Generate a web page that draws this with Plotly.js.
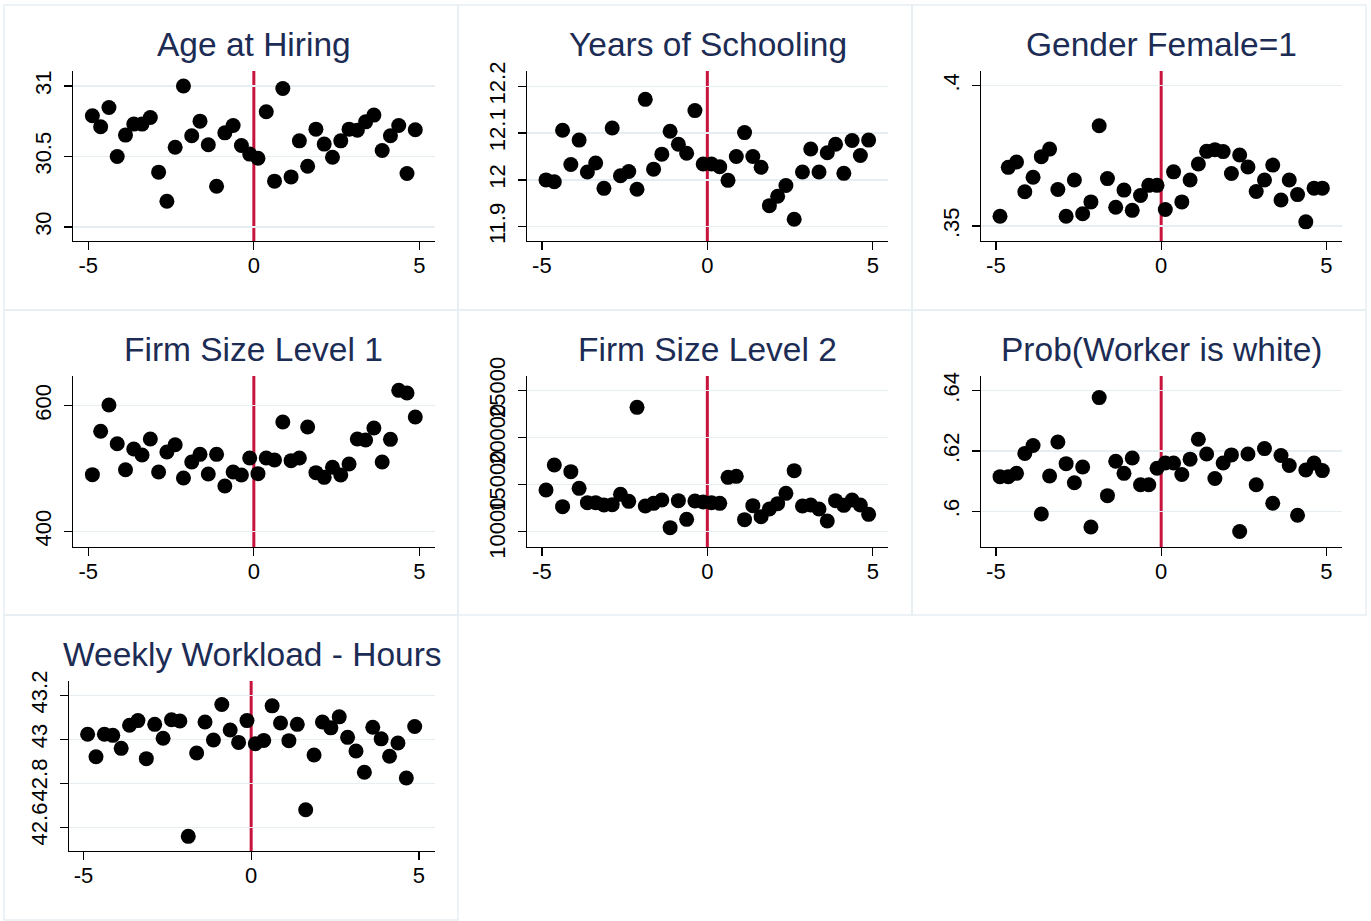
<!DOCTYPE html>
<html>
<head>
<meta charset="utf-8">
<script src="https://cdn.plot.ly/plotly-3.0.1.min.js"></script>
<style>
  html, body { margin: 0; padding: 0; background: #ffffff; }
  #chart { width: 1371px; height: 921px; }
</style>
</head>
<body>
<div id="chart"></div>
<script>
// Running variable: bin centres (distance to cutoff)
const bins = [-4.875, -4.625, -4.375, -4.125, -3.875, -3.625, -3.375, -3.125, -2.875, -2.625,
              -2.375, -2.125, -1.875, -1.625, -1.375, -1.125, -0.875, -0.625, -0.375, -0.125,
               0.125,  0.375,  0.625,  0.875,  1.125,  1.375,  1.625,  1.875,  2.125,  2.375,
               2.625,  2.875,  3.125,  3.375,  3.625,  3.875,  4.125,  4.375,  4.625,  4.875];

// Bin means of each covariate
const ageAtHiring = [30.789, 30.711, 30.848, 30.500, 30.652, 30.730, 30.730, 30.777, 30.389, 30.182,
                     30.566, 31.000, 30.647, 30.751, 30.583, 30.289, 30.668, 30.720, 30.578, 30.517,
                     30.488, 30.818, 30.325, 30.983, 30.355, 30.611, 30.431, 30.694, 30.588, 30.495,
                     30.611, 30.694, 30.687, 30.746, 30.794, 30.543, 30.647, 30.720, 30.379, 30.690];

const yearsSchooling = [12.000, 11.996, 12.106, 12.033, 12.085, 12.017, 12.036, 11.982, 12.111, 12.009,
                        12.018, 11.980, 12.172, 12.023, 12.055, 12.104, 12.076, 12.057, 12.148, 12.034,
                        12.034, 12.028, 11.999, 12.050, 12.101, 12.050, 12.027, 11.945, 11.965, 11.988,
                        11.916, 12.017, 12.066, 12.017, 12.058, 12.076, 12.014, 12.084, 12.052, 12.085];

const genderFemale = [0.3535, 0.3709, 0.3728, 0.3622, 0.3674, 0.3747, 0.3774, 0.3630, 0.3535, 0.3664,
                      0.3544, 0.3586, 0.3857, 0.3669, 0.3567, 0.3628, 0.3556, 0.3609, 0.3645, 0.3645,
                      0.3559, 0.3693, 0.3586, 0.3664, 0.3721, 0.3766, 0.3772, 0.3765, 0.3687, 0.3753,
                      0.3710, 0.3623, 0.3664, 0.3717, 0.3593, 0.3664, 0.3612, 0.3515, 0.3635, 0.3635];

const firmSize1 = [490.2, 559.2, 601.1, 539.5, 498.1, 531.0, 521.5, 547.0, 494.4, 526.3,
                   537.9, 484.9, 510.3, 522.5, 491.3, 522.5, 472.1, 494.4, 489.7, 516.7,
                   491.8, 516.7, 513.5, 574.0, 512.5, 516.7, 566.0, 493.4, 485.9, 501.9,
                   489.7, 507.2, 547.0, 545.4, 564.5, 510.3, 546.4, 624.4, 620.2, 582.0];

const firmSize2 = [14407, 17072, 12630, 16362, 14585, 13056, 13056, 12808, 12843, 13945,
                   13199, 23221, 12701, 12985, 13341, 10391, 13270, 11279, 13234, 13128,
                   13056, 12985, 15757, 15864, 11244, 12737, 11564, 12381, 12950, 14052,
                   16468, 12701, 12808, 12381, 11102, 13270, 12772, 13341, 12808, 11813];

const probWhite = [0.6115, 0.6115, 0.6126, 0.6192, 0.6218, 0.5991, 0.6117, 0.6230, 0.6158, 0.6095,
                   0.6147, 0.5948, 0.6377, 0.6052, 0.6166, 0.6126, 0.6177, 0.6088, 0.6088, 0.6143,
                   0.6160, 0.6160, 0.6122, 0.6173, 0.6239, 0.6190, 0.6109, 0.6160, 0.6187, 0.5933,
                   0.6190, 0.6088, 0.6208, 0.6027, 0.6185, 0.6152, 0.5987, 0.6137, 0.6160, 0.6135];

const weeklyHours = [43.023, 42.921, 43.023, 43.018, 42.959, 43.064, 43.085, 42.912, 43.068, 43.005,
                     43.089, 43.083, 42.559, 42.938, 43.079, 42.997, 43.158, 43.042, 42.986, 43.085,
                     42.980, 42.995, 43.152, 43.074, 42.994, 43.068, 42.680, 42.929, 43.079, 43.052,
                     43.102, 43.009, 42.947, 42.850, 43.055, 43.002, 42.923, 42.983, 42.824, 43.058];

// Panel titles and y tick values
const titles = ["Age at Hiring", "Years of Schooling", "Gender Female=1",
                "Firm Size Level 1", "Firm Size Level 2", "Prob(Worker is white)",
                "Weekly Workload - Hours"];
const seriesList = [ageAtHiring, yearsSchooling, genderFemale, firmSize1, firmSize2, probWhite, weeklyHours];
const yTickVals = [
  [30, 30.5, 31],
  [11.9, 12, 12.1, 12.2],
  [0.35, 0.4],
  [400, 600],
  [10000, 15000, 20000, 25000],
  [0.6, 0.62, 0.64],
  [42.6, 42.8, 43, 43.2]
];
const yTickText = [
  ["30", "30.5", "31"],
  ["11.9", "12", "12.1", "12.2"],
  [".35", ".4"],
  ["400", "600"],
  ["10000", "15000", "20000", "25000"],
  [".6", ".62", ".64"],
  ["42.6", "42.8", "43", "43.2"]
];
const xTickVals = [-5, 0, 5];
const xTickText = ["-5", "0", "5"];

// ---- layout geometry (pixels) ----
const W = 1371, H = 921;
const FONT = "Liberation Sans, Arial, Helvetica, sans-serif";
const TITLE_COLOR = "#1c2c54";
const GRID = "#e6eef2";
const CUTOFF = "#c8143c";

// plot areas: [left, right, top, bottom]
const plotBoxes = [
  [73, 435, 71, 241],
  [527, 888, 71, 241],
  [981, 1342, 71, 241],
  [73, 435, 376, 547],
  [527, 888, 376, 547],
  [981, 1342, 376, 547],
  [69, 435, 681, 851]
];
const xRanges = [
  [-5.46, 5.47], [-5.45, 5.46], [-5.45, 5.47],
  [-5.46, 5.47], [-5.45, 5.46], [-5.45, 5.47],
  [-5.43, 5.48]
];
const yRanges = [
  [29.90, 31.107],
  [11.8695, 12.2326],
  [0.34468, 0.4052],
  [375.1, 647.2],
  [8330, 26562],
  [0.58818, 0.64486],
  [42.4924, 43.265]
];
// outer frames of each sub-graph: [left, top, right, bottom]
const frames = [
  [4, 5, 458, 310], [458, 5, 912, 310], [912, 5, 1366, 310],
  [4, 310, 458, 615], [458, 310, 912, 615], [912, 310, 1366, 615],
  [4, 615, 458, 920]
];
const titleBaseY = [57, 57, 57, 362, 362, 362, 667];

const px = v => v / W;
const py = v => 1 - v / H;

const data = [];
const layout = {
  width: W, height: H,
  margin: {l: 0, r: 0, t: 0, b: 0},
  paper_bgcolor: "#ffffff",
  plot_bgcolor: "rgba(0,0,0,0)",
  showlegend: false,
  font: {family: FONT, color: "#000000", size: 22},
  shapes: [],
  annotations: []
};

seriesList.forEach((ys, i) => {
  const n = i + 1;
  const xa = n === 1 ? "x" : "x" + n;
  const ya = n === 1 ? "y" : "y" + n;
  const box = plotBoxes[i];

  data.push({
    type: "scatter", mode: "markers",
    x: bins, y: ys,
    xaxis: xa, yaxis: ya,
    marker: {color: "#000000", size: 15, line: {width: 0}},
    hoverinfo: "x+y"
  });

  layout["xaxis" + (n === 1 ? "" : n)] = {
    domain: [px(box[0]), px(box[1])],
    anchor: ya,
    range: xRanges[i],
    tickmode: "array", tickvals: xTickVals, ticktext: xTickText,
    ticks: "outside", ticklen: 8, tickwidth: 1.3, tickcolor: "#000000",
    ticklabelstandoff: -4,
    showline: true, linecolor: "#000000", linewidth: 1.3,
    showgrid: false, zeroline: false,
    tickfont: {family: FONT, size: 22, color: "#000000"}
  };
  layout["yaxis" + (n === 1 ? "" : n)] = {
    domain: [py(box[3]), py(box[2])],
    anchor: xa,
    range: yRanges[i],
    tickmode: "array", tickvals: yTickVals[i], ticktext: yTickText[i],
    tickangle: -90,
    ticks: "outside", ticklen: 8, tickwidth: 1.3, tickcolor: "#000000",
    ticklabelstandoff: 4,
    showline: true, linecolor: "#000000", linewidth: 1.3,
    showgrid: true, gridcolor: GRID, gridwidth: 1.5,
    zeroline: false,
    tickfont: {family: FONT, size: 22, color: "#000000"}
  };

  // cutoff line at zero, drawn beneath the markers
  layout.shapes.push({
    type: "line", xref: xa, yref: "paper",
    x0: 0, x1: 0, y0: py(box[3]), y1: py(box[2]),
    line: {color: CUTOFF, width: 3},
    layer: "below"
  });

  // sub-graph frame
  const f = frames[i];
  layout.shapes.push({
    type: "rect", xref: "paper", yref: "paper",
    x0: px(f[0]), x1: px(f[2]), y0: py(f[3]), y1: py(f[1]),
    line: {color: GRID, width: 1.5},
    fillcolor: "rgba(0,0,0,0)",
    layer: "below"
  });

  // sub-graph title
  layout.annotations.push({
    text: titles[i],
    xref: "paper", yref: "paper",
    x: px((box[0] + box[1]) / 2), y: py(titleBaseY[i] + 8),
    xanchor: "center", yanchor: "bottom",
    showarrow: false,
    font: {family: FONT, size: 33.5, color: TITLE_COLOR}
  });
});

Plotly.newPlot("chart", data, layout, {displayModeBar: false, staticPlot: true});
</script>
</body>
</html>
